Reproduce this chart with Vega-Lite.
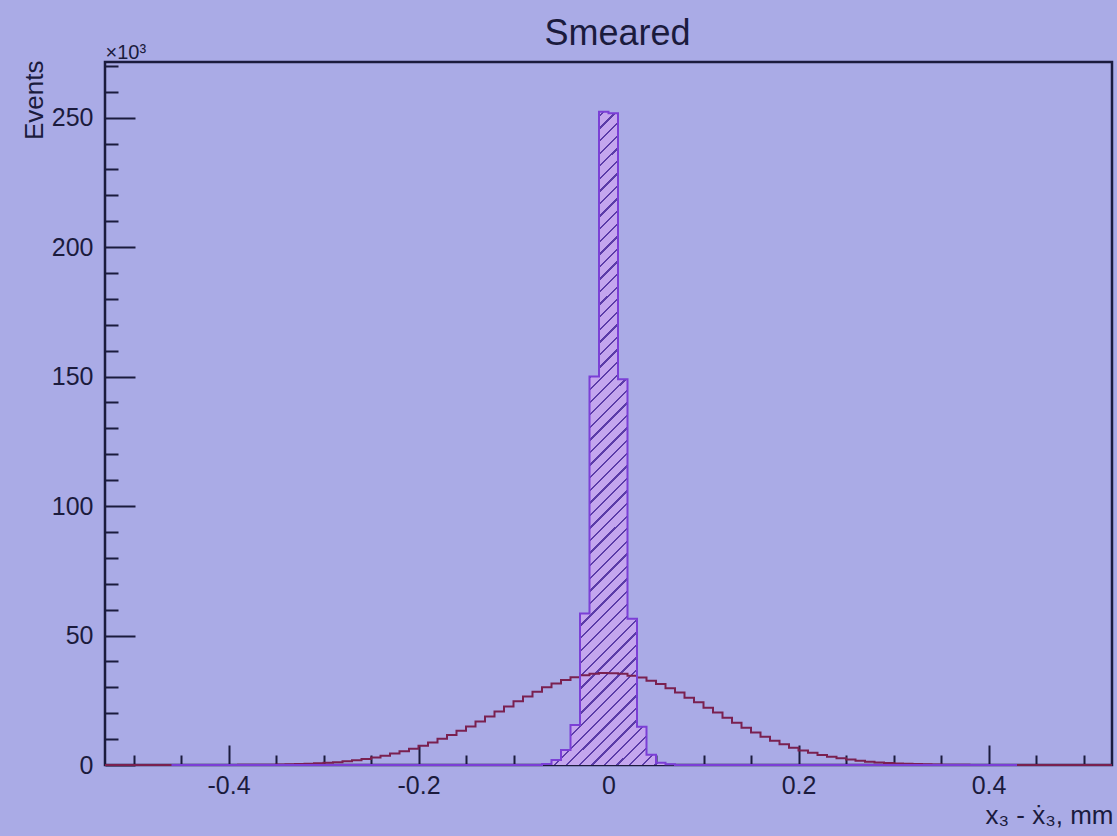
{
  "$schema": "https://vega.github.io/schema/vega-lite/v6.json",
  "width": 1007,
  "height": 703,
  "autosize": {"type": "none"},
  "padding": {"left": 105, "top": 62, "right": 5, "bottom": 71},
  "background": "#aaabe6",
  "config": {
    "view": {"stroke": "#1b1b3d", "strokeWidth": 2.5},
    "axis": {"grid": false, "domain": false, "labelFont": "Liberation Sans", "titleFont": "Liberation Sans", "labelColor": "#1b1b3d", "titleColor": "#1b1b3d", "titleFontWeight": "normal", "tickColor": "#1b1b3d", "tickWidth": 2}
  },
  "datasets": {
    "wide": [
      {"edge": -0.53, "events": 0}, {"edge": -0.41, "events": 0.02}, {"edge": -0.40, "events": 0.03}, {"edge": -0.39, "events": 0.05},
      {"edge": -0.38, "events": 0.07}, {"edge": -0.37, "events": 0.1}, {"edge": -0.36, "events": 0.14}, {"edge": -0.35, "events": 0.2},
      {"edge": -0.34, "events": 0.27}, {"edge": -0.33, "events": 0.37}, {"edge": -0.32, "events": 0.5}, {"edge": -0.31, "events": 0.65},
      {"edge": -0.30, "events": 0.85}, {"edge": -0.29, "events": 1.1}, {"edge": -0.28, "events": 1.45}, {"edge": -0.27, "events": 1.85},
      {"edge": -0.26, "events": 2.3}, {"edge": -0.25, "events": 2.9}, {"edge": -0.24, "events": 3.6}, {"edge": -0.23, "events": 4.4},
      {"edge": -0.22, "events": 5.3}, {"edge": -0.21, "events": 6.3}, {"edge": -0.20, "events": 7.4}, {"edge": -0.19, "events": 8.7},
      {"edge": -0.18, "events": 10.1}, {"edge": -0.17, "events": 11.6}, {"edge": -0.16, "events": 13.2}, {"edge": -0.15, "events": 14.9},
      {"edge": -0.14, "events": 16.8}, {"edge": -0.13, "events": 18.7}, {"edge": -0.12, "events": 20.7}, {"edge": -0.11, "events": 22.6},
      {"edge": -0.10, "events": 24.6}, {"edge": -0.09, "events": 26.5}, {"edge": -0.08, "events": 28.3}, {"edge": -0.07, "events": 30.0},
      {"edge": -0.06, "events": 31.5}, {"edge": -0.05, "events": 32.8}, {"edge": -0.04, "events": 33.9}, {"edge": -0.03, "events": 34.7},
      {"edge": -0.02, "events": 35.2}, {"edge": -0.01, "events": 35.5}, {"edge": 0.00, "events": 35.4}, {"edge": 0.01, "events": 35.2},
      {"edge": 0.02, "events": 34.5}, {"edge": 0.03, "events": 33.8}, {"edge": 0.04, "events": 32.5}, {"edge": 0.05, "events": 31.3},
      {"edge": 0.06, "events": 29.6}, {"edge": 0.07, "events": 28.0}, {"edge": 0.08, "events": 26.0}, {"edge": 0.09, "events": 24.2},
      {"edge": 0.10, "events": 22.1}, {"edge": 0.11, "events": 20.3}, {"edge": 0.12, "events": 18.2}, {"edge": 0.13, "events": 16.3},
      {"edge": 0.14, "events": 14.4}, {"edge": 0.15, "events": 12.6}, {"edge": 0.16, "events": 10.9}, {"edge": 0.17, "events": 9.4},
      {"edge": 0.18, "events": 8.0}, {"edge": 0.19, "events": 6.7}, {"edge": 0.20, "events": 5.6}, {"edge": 0.21, "events": 4.7},
      {"edge": 0.22, "events": 3.9}, {"edge": 0.23, "events": 3.2}, {"edge": 0.24, "events": 2.6}, {"edge": 0.25, "events": 2.1},
      {"edge": 0.26, "events": 1.65}, {"edge": 0.27, "events": 1.3}, {"edge": 0.28, "events": 1.0}, {"edge": 0.29, "events": 0.78},
      {"edge": 0.30, "events": 0.6}, {"edge": 0.31, "events": 0.45}, {"edge": 0.32, "events": 0.34}, {"edge": 0.33, "events": 0.25},
      {"edge": 0.34, "events": 0.18}, {"edge": 0.35, "events": 0.13}, {"edge": 0.36, "events": 0.09}, {"edge": 0.37, "events": 0.06},
      {"edge": 0.38, "events": 0.04}, {"edge": 0.39, "events": 0.02}, {"edge": 0.40, "events": 0}, {"edge": 0.53, "events": 0}
    ],
    "narrow": [
      {"edge": -0.46, "events": 0}, {"edge": -0.07, "events": 0.4}, {"edge": -0.06, "events": 1.9}, {"edge": -0.05, "events": 5.8},
      {"edge": -0.04, "events": 15.4}, {"edge": -0.03, "events": 58.5}, {"edge": -0.02, "events": 150}, {"edge": -0.01, "events": 252.3},
      {"edge": 0.00, "events": 251.7}, {"edge": 0.01, "events": 149}, {"edge": 0.02, "events": 56.5}, {"edge": 0.03, "events": 14.8},
      {"edge": 0.04, "events": 4.0}, {"edge": 0.05, "events": 0.9}, {"edge": 0.06, "events": 0.3}, {"edge": 0.07, "events": 0},
      {"edge": 0.43, "events": 0}
    ]
  },
  "resolve": {"axis": {"x": "independent", "y": "independent"}},
  "layer": [
    {
      "data": {"name": "narrow"},
      "transform": [{"filter": "datum.edge >= -0.07 && datum.edge <= 0.07"}],
      "mark": {
        "type": "area", "interpolate": "step-after", "stroke": null,
        "fill": {
          "gradient": "linear", "x1": 0, "y1": 0, "x2": 0.235, "y2": 1.1556,
          "stops": [
            {"offset": 0, "color": "#c4a6ee"},
            {"offset": 0.013, "color": "#c4a6ee"}, {"offset": 0.013, "color": "#5b3ca8"}, {"offset": 0.016, "color": "#5b3ca8"}, {"offset": 0.016, "color": "#c4a6ee"},
            {"offset": 0.029, "color": "#c4a6ee"}, {"offset": 0.029, "color": "#5b3ca8"}, {"offset": 0.032, "color": "#5b3ca8"}, {"offset": 0.032, "color": "#c4a6ee"},
            {"offset": 0.045, "color": "#c4a6ee"}, {"offset": 0.045, "color": "#5b3ca8"}, {"offset": 0.048, "color": "#5b3ca8"}, {"offset": 0.048, "color": "#c4a6ee"},
            {"offset": 0.061, "color": "#c4a6ee"}, {"offset": 0.061, "color": "#5b3ca8"}, {"offset": 0.064, "color": "#5b3ca8"}, {"offset": 0.064, "color": "#c4a6ee"},
            {"offset": 0.077, "color": "#c4a6ee"}, {"offset": 0.077, "color": "#5b3ca8"}, {"offset": 0.080, "color": "#5b3ca8"}, {"offset": 0.080, "color": "#c4a6ee"},
            {"offset": 0.093, "color": "#c4a6ee"}, {"offset": 0.093, "color": "#5b3ca8"}, {"offset": 0.096, "color": "#5b3ca8"}, {"offset": 0.096, "color": "#c4a6ee"},
            {"offset": 0.109, "color": "#c4a6ee"}, {"offset": 0.109, "color": "#5b3ca8"}, {"offset": 0.112, "color": "#5b3ca8"}, {"offset": 0.112, "color": "#c4a6ee"},
            {"offset": 0.125, "color": "#c4a6ee"}, {"offset": 0.125, "color": "#5b3ca8"}, {"offset": 0.128, "color": "#5b3ca8"}, {"offset": 0.128, "color": "#c4a6ee"},
            {"offset": 0.141, "color": "#c4a6ee"}, {"offset": 0.141, "color": "#5b3ca8"}, {"offset": 0.144, "color": "#5b3ca8"}, {"offset": 0.144, "color": "#c4a6ee"},
            {"offset": 0.157, "color": "#c4a6ee"}, {"offset": 0.157, "color": "#5b3ca8"}, {"offset": 0.160, "color": "#5b3ca8"}, {"offset": 0.160, "color": "#c4a6ee"},
            {"offset": 0.173, "color": "#c4a6ee"}, {"offset": 0.173, "color": "#5b3ca8"}, {"offset": 0.176, "color": "#5b3ca8"}, {"offset": 0.176, "color": "#c4a6ee"},
            {"offset": 0.189, "color": "#c4a6ee"}, {"offset": 0.189, "color": "#5b3ca8"}, {"offset": 0.192, "color": "#5b3ca8"}, {"offset": 0.192, "color": "#c4a6ee"},
            {"offset": 0.205, "color": "#c4a6ee"}, {"offset": 0.205, "color": "#5b3ca8"}, {"offset": 0.208, "color": "#5b3ca8"}, {"offset": 0.208, "color": "#c4a6ee"},
            {"offset": 0.221, "color": "#c4a6ee"}, {"offset": 0.221, "color": "#5b3ca8"}, {"offset": 0.224, "color": "#5b3ca8"}, {"offset": 0.224, "color": "#c4a6ee"},
            {"offset": 0.237, "color": "#c4a6ee"}, {"offset": 0.237, "color": "#5b3ca8"}, {"offset": 0.240, "color": "#5b3ca8"}, {"offset": 0.240, "color": "#c4a6ee"},
            {"offset": 0.253, "color": "#c4a6ee"}, {"offset": 0.253, "color": "#5b3ca8"}, {"offset": 0.256, "color": "#5b3ca8"}, {"offset": 0.256, "color": "#c4a6ee"},
            {"offset": 0.269, "color": "#c4a6ee"}, {"offset": 0.269, "color": "#5b3ca8"}, {"offset": 0.272, "color": "#5b3ca8"}, {"offset": 0.272, "color": "#c4a6ee"},
            {"offset": 0.285, "color": "#c4a6ee"}, {"offset": 0.285, "color": "#5b3ca8"}, {"offset": 0.288, "color": "#5b3ca8"}, {"offset": 0.288, "color": "#c4a6ee"},
            {"offset": 0.301, "color": "#c4a6ee"}, {"offset": 0.301, "color": "#5b3ca8"}, {"offset": 0.304, "color": "#5b3ca8"}, {"offset": 0.304, "color": "#c4a6ee"},
            {"offset": 0.317, "color": "#c4a6ee"}, {"offset": 0.317, "color": "#5b3ca8"}, {"offset": 0.320, "color": "#5b3ca8"}, {"offset": 0.320, "color": "#c4a6ee"},
            {"offset": 0.333, "color": "#c4a6ee"}, {"offset": 0.333, "color": "#5b3ca8"}, {"offset": 0.336, "color": "#5b3ca8"}, {"offset": 0.336, "color": "#c4a6ee"},
            {"offset": 0.349, "color": "#c4a6ee"}, {"offset": 0.349, "color": "#5b3ca8"}, {"offset": 0.352, "color": "#5b3ca8"}, {"offset": 0.352, "color": "#c4a6ee"},
            {"offset": 0.365, "color": "#c4a6ee"}, {"offset": 0.365, "color": "#5b3ca8"}, {"offset": 0.368, "color": "#5b3ca8"}, {"offset": 0.368, "color": "#c4a6ee"},
            {"offset": 0.381, "color": "#c4a6ee"}, {"offset": 0.381, "color": "#5b3ca8"}, {"offset": 0.384, "color": "#5b3ca8"}, {"offset": 0.384, "color": "#c4a6ee"},
            {"offset": 0.397, "color": "#c4a6ee"}, {"offset": 0.397, "color": "#5b3ca8"}, {"offset": 0.400, "color": "#5b3ca8"}, {"offset": 0.400, "color": "#c4a6ee"},
            {"offset": 0.413, "color": "#c4a6ee"}, {"offset": 0.413, "color": "#5b3ca8"}, {"offset": 0.416, "color": "#5b3ca8"}, {"offset": 0.416, "color": "#c4a6ee"},
            {"offset": 0.429, "color": "#c4a6ee"}, {"offset": 0.429, "color": "#5b3ca8"}, {"offset": 0.432, "color": "#5b3ca8"}, {"offset": 0.432, "color": "#c4a6ee"},
            {"offset": 0.445, "color": "#c4a6ee"}, {"offset": 0.445, "color": "#5b3ca8"}, {"offset": 0.448, "color": "#5b3ca8"}, {"offset": 0.448, "color": "#c4a6ee"},
            {"offset": 0.461, "color": "#c4a6ee"}, {"offset": 0.461, "color": "#5b3ca8"}, {"offset": 0.464, "color": "#5b3ca8"}, {"offset": 0.464, "color": "#c4a6ee"},
            {"offset": 0.477, "color": "#c4a6ee"}, {"offset": 0.477, "color": "#5b3ca8"}, {"offset": 0.480, "color": "#5b3ca8"}, {"offset": 0.480, "color": "#c4a6ee"},
            {"offset": 0.493, "color": "#c4a6ee"}, {"offset": 0.493, "color": "#5b3ca8"}, {"offset": 0.496, "color": "#5b3ca8"}, {"offset": 0.496, "color": "#c4a6ee"},
            {"offset": 0.509, "color": "#c4a6ee"}, {"offset": 0.509, "color": "#5b3ca8"}, {"offset": 0.512, "color": "#5b3ca8"}, {"offset": 0.512, "color": "#c4a6ee"},
            {"offset": 0.525, "color": "#c4a6ee"}, {"offset": 0.525, "color": "#5b3ca8"}, {"offset": 0.528, "color": "#5b3ca8"}, {"offset": 0.528, "color": "#c4a6ee"},
            {"offset": 0.541, "color": "#c4a6ee"}, {"offset": 0.541, "color": "#5b3ca8"}, {"offset": 0.544, "color": "#5b3ca8"}, {"offset": 0.544, "color": "#c4a6ee"},
            {"offset": 0.557, "color": "#c4a6ee"}, {"offset": 0.557, "color": "#5b3ca8"}, {"offset": 0.560, "color": "#5b3ca8"}, {"offset": 0.560, "color": "#c4a6ee"},
            {"offset": 0.573, "color": "#c4a6ee"}, {"offset": 0.573, "color": "#5b3ca8"}, {"offset": 0.576, "color": "#5b3ca8"}, {"offset": 0.576, "color": "#c4a6ee"},
            {"offset": 0.589, "color": "#c4a6ee"}, {"offset": 0.589, "color": "#5b3ca8"}, {"offset": 0.592, "color": "#5b3ca8"}, {"offset": 0.592, "color": "#c4a6ee"},
            {"offset": 0.605, "color": "#c4a6ee"}, {"offset": 0.605, "color": "#5b3ca8"}, {"offset": 0.608, "color": "#5b3ca8"}, {"offset": 0.608, "color": "#c4a6ee"},
            {"offset": 0.621, "color": "#c4a6ee"}, {"offset": 0.621, "color": "#5b3ca8"}, {"offset": 0.624, "color": "#5b3ca8"}, {"offset": 0.624, "color": "#c4a6ee"},
            {"offset": 0.637, "color": "#c4a6ee"}, {"offset": 0.637, "color": "#5b3ca8"}, {"offset": 0.640, "color": "#5b3ca8"}, {"offset": 0.640, "color": "#c4a6ee"},
            {"offset": 0.653, "color": "#c4a6ee"}, {"offset": 0.653, "color": "#5b3ca8"}, {"offset": 0.656, "color": "#5b3ca8"}, {"offset": 0.656, "color": "#c4a6ee"},
            {"offset": 0.669, "color": "#c4a6ee"}, {"offset": 0.669, "color": "#5b3ca8"}, {"offset": 0.672, "color": "#5b3ca8"}, {"offset": 0.672, "color": "#c4a6ee"},
            {"offset": 0.685, "color": "#c4a6ee"}, {"offset": 0.685, "color": "#5b3ca8"}, {"offset": 0.688, "color": "#5b3ca8"}, {"offset": 0.688, "color": "#c4a6ee"},
            {"offset": 0.701, "color": "#c4a6ee"}, {"offset": 0.701, "color": "#5b3ca8"}, {"offset": 0.704, "color": "#5b3ca8"}, {"offset": 0.704, "color": "#c4a6ee"},
            {"offset": 0.717, "color": "#c4a6ee"}, {"offset": 0.717, "color": "#5b3ca8"}, {"offset": 0.720, "color": "#5b3ca8"}, {"offset": 0.720, "color": "#c4a6ee"},
            {"offset": 0.733, "color": "#c4a6ee"}, {"offset": 0.733, "color": "#5b3ca8"}, {"offset": 0.736, "color": "#5b3ca8"}, {"offset": 0.736, "color": "#c4a6ee"},
            {"offset": 0.749, "color": "#c4a6ee"}, {"offset": 0.749, "color": "#5b3ca8"}, {"offset": 0.752, "color": "#5b3ca8"}, {"offset": 0.752, "color": "#c4a6ee"},
            {"offset": 0.765, "color": "#c4a6ee"}, {"offset": 0.765, "color": "#5b3ca8"}, {"offset": 0.768, "color": "#5b3ca8"}, {"offset": 0.768, "color": "#c4a6ee"},
            {"offset": 0.781, "color": "#c4a6ee"}, {"offset": 0.781, "color": "#5b3ca8"}, {"offset": 0.784, "color": "#5b3ca8"}, {"offset": 0.784, "color": "#c4a6ee"},
            {"offset": 0.797, "color": "#c4a6ee"}, {"offset": 0.797, "color": "#5b3ca8"}, {"offset": 0.800, "color": "#5b3ca8"}, {"offset": 0.800, "color": "#c4a6ee"},
            {"offset": 0.813, "color": "#c4a6ee"}, {"offset": 0.813, "color": "#5b3ca8"}, {"offset": 0.816, "color": "#5b3ca8"}, {"offset": 0.816, "color": "#c4a6ee"},
            {"offset": 0.829, "color": "#c4a6ee"}, {"offset": 0.829, "color": "#5b3ca8"}, {"offset": 0.832, "color": "#5b3ca8"}, {"offset": 0.832, "color": "#c4a6ee"},
            {"offset": 0.845, "color": "#c4a6ee"}, {"offset": 0.845, "color": "#5b3ca8"}, {"offset": 0.848, "color": "#5b3ca8"}, {"offset": 0.848, "color": "#c4a6ee"},
            {"offset": 0.861, "color": "#c4a6ee"}, {"offset": 0.861, "color": "#5b3ca8"}, {"offset": 0.864, "color": "#5b3ca8"}, {"offset": 0.864, "color": "#c4a6ee"},
            {"offset": 0.877, "color": "#c4a6ee"}, {"offset": 0.877, "color": "#5b3ca8"}, {"offset": 0.880, "color": "#5b3ca8"}, {"offset": 0.880, "color": "#c4a6ee"},
            {"offset": 0.893, "color": "#c4a6ee"}, {"offset": 0.893, "color": "#5b3ca8"}, {"offset": 0.896, "color": "#5b3ca8"}, {"offset": 0.896, "color": "#c4a6ee"},
            {"offset": 0.909, "color": "#c4a6ee"}, {"offset": 0.909, "color": "#5b3ca8"}, {"offset": 0.912, "color": "#5b3ca8"}, {"offset": 0.912, "color": "#c4a6ee"},
            {"offset": 0.925, "color": "#c4a6ee"}, {"offset": 0.925, "color": "#5b3ca8"}, {"offset": 0.928, "color": "#5b3ca8"}, {"offset": 0.928, "color": "#c4a6ee"},
            {"offset": 0.941, "color": "#c4a6ee"}, {"offset": 0.941, "color": "#5b3ca8"}, {"offset": 0.944, "color": "#5b3ca8"}, {"offset": 0.944, "color": "#c4a6ee"},
            {"offset": 0.957, "color": "#c4a6ee"}, {"offset": 0.957, "color": "#5b3ca8"}, {"offset": 0.960, "color": "#5b3ca8"}, {"offset": 0.960, "color": "#c4a6ee"},
            {"offset": 0.973, "color": "#c4a6ee"}, {"offset": 0.973, "color": "#5b3ca8"}, {"offset": 0.976, "color": "#5b3ca8"}, {"offset": 0.976, "color": "#c4a6ee"},
            {"offset": 0.989, "color": "#c4a6ee"}, {"offset": 0.989, "color": "#5b3ca8"}, {"offset": 0.992, "color": "#5b3ca8"}, {"offset": 0.992, "color": "#c4a6ee"},
            {"offset": 1, "color": "#c4a6ee"}
          ]
        }
      },
      "encoding": {
        "x": {"field": "edge", "type": "quantitative", "scale": {"domain": [-0.53, 0.53], "nice": false, "zero": false},
          "axis": {"orient": "bottom", "values": [-0.4, -0.2, 0, 0.2, 0.4], "labelExpr": "toString(datum.value)", "ticks": false, "tickSize": 0, "labelPadding": 8, "labelFontSize": 25,
            "title": "x₃ - ẋ₃, mm", "titleFontSize": 26, "titleAlign": "right", "titleBaseline": "alphabetic", "titleX": 1008, "titleY": 58, "titleAnchor": null}},
        "y": {"field": "events", "type": "quantitative", "scale": {"domain": [0, 271.5], "nice": false, "zero": true},
          "axis": {"orient": "left", "values": [0, 50, 100, 150, 200, 250], "ticks": false, "tickSize": 0, "labelPadding": 12, "labelFontSize": 25,
            "title": "Events", "titleFontSize": 26, "titleAngle": -90, "titleAlign": "right", "titleBaseline": "alphabetic", "titleX": -63, "titleY": -2, "titleAnchor": null}}
      }
    },
    {
      "data": {"name": "wide"},
      "mark": {"type": "line", "interpolate": "step-after", "color": "#7a2050", "strokeWidth": 2},
      "encoding": {
        "x": {"field": "edge", "type": "quantitative", "scale": {"domain": [-0.53, 0.53], "nice": false, "zero": false},
          "axis": {"orient": "top", "offset": -703, "values": [-0.4, -0.2, 0, 0.2, 0.4], "labels": false, "tickSize": 20,
            "title": "Smeared", "titleFontSize": 36, "titleAngle": 0, "titleAlign": "center", "titleBaseline": "alphabetic", "titleX": 512, "titleY": -721, "titleAnchor": null}},
        "y": {"field": "events", "type": "quantitative", "scale": {"domain": [0, 271.5], "nice": false, "zero": true},
          "axis": {"orient": "right", "offset": -1007, "values": [0, 50, 100, 150, 200, 250], "labels": false, "tickSize": 30,
            "title": "×10³", "titleFontSize": 20, "titleAngle": 0, "titleAlign": "left", "titleBaseline": "alphabetic", "titleX": 0, "titleY": -4, "titleAnchor": null}}
      }
    },
    {
      "data": {"name": "narrow"},
      "mark": {"type": "line", "interpolate": "step-after", "color": "#7b3fd6", "strokeWidth": 2},
      "encoding": {
        "x": {"field": "edge", "type": "quantitative", "scale": {"domain": [-0.53, 0.53], "nice": false, "zero": false},
          "axis": {"orient": "top", "offset": -703, "values": [-0.5, -0.45, -0.35, -0.3, -0.25, -0.15, -0.1, -0.05, 0.05, 0.1, 0.15, 0.25, 0.3, 0.35, 0.45, 0.5], "labels": false, "tickSize": 10, "title": null}},
        "y": {"field": "events", "type": "quantitative", "scale": {"domain": [0, 271.5], "nice": false, "zero": true},
          "axis": {"orient": "right", "offset": -1007, "values": [10, 20, 30, 40, 60, 70, 80, 90, 110, 120, 130, 140, 160, 170, 180, 190, 210, 220, 230, 240, 260, 270], "labels": false, "tickSize": 13, "title": null}}
      }
    }
  ]
}
